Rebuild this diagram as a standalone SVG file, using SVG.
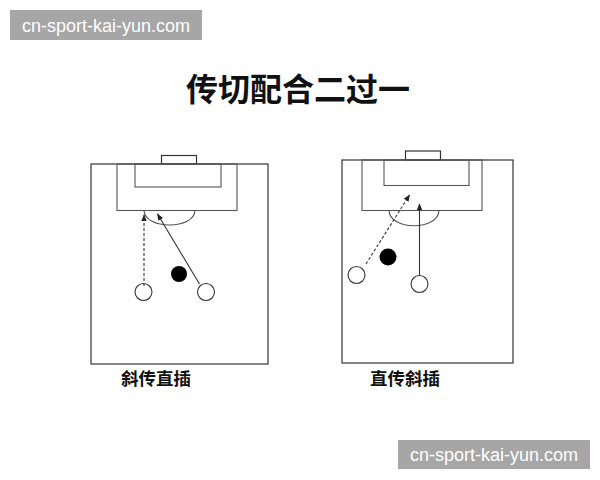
<svg xmlns="http://www.w3.org/2000/svg" width="600" height="480" viewBox="0 0 600 480">
<defs>
<marker id="ah" viewBox="0 0 10 10" refX="9" refY="5" markerWidth="7" markerHeight="7" orient="auto" markerUnits="userSpaceOnUse"><path d="M0,1 L10,5 L0,9 Z" fill="#222"/></marker>
<style>
.fld{fill:none;stroke:#333;stroke-width:1.2}
.box{fill:none;stroke:#555;stroke-width:1.1}
.pl{fill:#fff;stroke:#333;stroke-width:1.1}
.ball{fill:#000}
.sol{stroke:#333;stroke-width:1.1;fill:none;marker-end:url(#ah)}
.dsh{stroke:#333;stroke-width:1.1;fill:none;stroke-dasharray:3 2;marker-end:url(#ah)}
.lbl{font-family:"Noto Sans CJK SC",sans-serif;font-size:17.5px;font-weight:bold;fill:#111}
.wm{fill:#a6a6a6}
.wmt{font-family:"Liberation Sans",sans-serif;font-size:18px;fill:#fff;text-anchor:middle}
</style>
</defs>
<rect width="600" height="480" fill="#fff"/>
<g id="wm1"><rect class="wm" x="10" y="10" width="192" height="30"/><text class="wmt" x="106" y="31.5">cn-sport-kai-yun.com</text></g>
<g id="wm2"><rect class="wm" x="398" y="440" width="192" height="29"/><text class="wmt" x="494" y="461">cn-sport-kai-yun.com</text></g>
<text id="title" x="298" y="101" text-anchor="middle" font-family="'Noto Sans CJK SC',sans-serif" font-size="32" font-weight="bold" fill="#111">传切配合二过一</text>
<g id="field1">
<rect class="fld" x="161.5" y="155.5" width="35" height="8.5"/>
<rect class="fld" x="91" y="164" width="177" height="200"/>
<rect class="box" x="117" y="164" width="120" height="46.5"/>
<rect class="box" x="135" y="164" width="86" height="23"/>
<path class="box" d="M144,210 C144,230 195,230 195,210"/>
</g>
<g id="field2">
<rect class="fld" x="405.5" y="151" width="35" height="9"/>
<rect class="fld" x="342" y="160" width="171" height="203"/>
<rect class="box" x="362" y="160" width="120" height="50.5"/>
<rect class="box" x="384" y="160" width="85" height="25.5"/>
<path class="box" d="M389,210 C389,231 439,231 439,210"/>
</g>
<g id="players1">
<circle id="p1a" class="pl" cx="143.5" cy="292" r="8.5"/>
<circle id="p1b" class="pl" cx="206" cy="292" r="8.5"/>
<circle id="ball1" class="ball" cx="179" cy="274" r="8"/>
</g>
<g id="players2">
<circle id="p2a" class="pl" cx="356.5" cy="275" r="8.5"/>
<circle id="p2b" class="pl" cx="419.5" cy="284" r="8.5"/>
<circle id="ball2" class="ball" cx="388" cy="257" r="8.5"/>
</g>
<g id="connectors">
<line class="dsh" x1="144" y1="286" x2="144" y2="215"/>
<line class="sol" x1="199.5" y1="284" x2="157.5" y2="214"/>
<line class="dsh" x1="366" y1="264" x2="409.5" y2="195"/>
<line class="sol" x1="419.5" y1="275.5" x2="419.5" y2="204"/>
</g>
<text id="lbl1" class="lbl" x="121" y="385">斜传直插</text>
<text id="lbl2" class="lbl" x="370" y="385">直传斜插</text>
</svg>
